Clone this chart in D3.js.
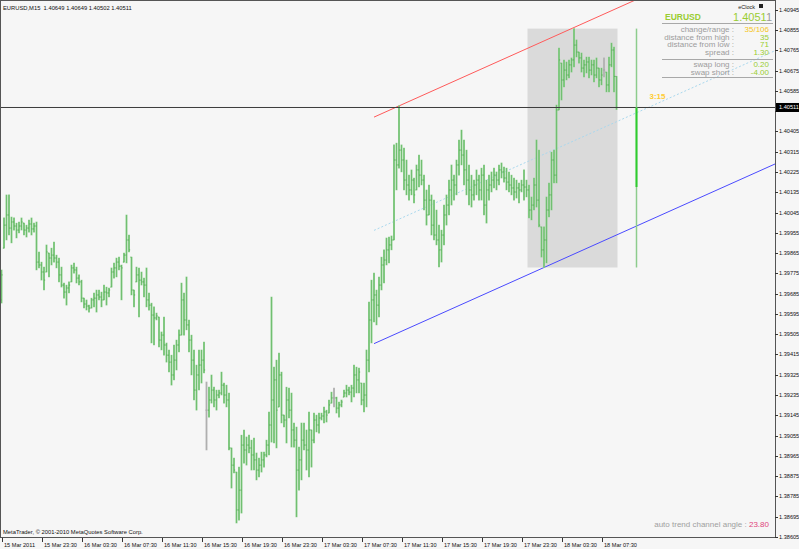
<!DOCTYPE html>
<html><head><meta charset="utf-8">
<script src="https://cdn.jsdelivr.net/npm/d3@7"></script>
<style>body{margin:0;background:#f6f6f6;overflow:hidden} svg{display:block}</style>
</head><body><svg id="c" width="799" height="549"></svg>
<script>
// ---- data (EURUSD M15, bar 0 = 15 Mar 2011 19:30) ----
const symbol = "EURUSD", period = "M15";
const highs = [
1.39790,1.40021,1.40123,1.40123,1.40025,1.40021,1.39998,1.40003,1.40021,1.39998,
1.39989,1.40012,1.40021,1.39998,1.40003,1.39870,1.39825,1.39803,1.39901,1.39865,
1.39887,1.39914,1.39856,1.39843,1.39803,1.39732,1.39723,1.39737,1.39812,1.39821,
1.39803,1.39768,1.39745,1.39665,1.39657,1.39634,1.39665,1.39688,1.39701,1.39701,
1.39692,1.39723,1.39714,1.39710,1.39799,1.39821,1.39843,1.39847,1.39812,1.39865,
1.40034,1.39945,1.39847,1.39701,1.39803,1.39799,1.39781,1.39754,1.39799,1.39688,
1.39643,1.39626,1.39599,1.39581,1.39515,1.39581,1.39466,1.39435,1.39412,1.39457,
1.39479,1.39524,1.39732,1.39688,1.39759,1.39568,1.39501,1.39435,1.39368,1.39435,
1.39435,1.39470,1.39293,1.39270,1.39324,1.39270,1.39257,1.39257,1.39337,1.39288,
1.39279,1.39244,1.39000,1.38955,1.38893,1.38915,1.39057,1.39080,1.39049,1.39057,
1.39035,1.39044,1.38978,1.38955,1.38982,1.38982,1.39035,1.39160,1.39670,1.39359,
1.39390,1.39421,1.39337,1.39146,1.39270,1.39266,1.39244,1.39111,1.39093,1.39004,
1.39111,1.39111,1.39080,1.39160,1.39080,1.39155,1.39146,1.39155,1.39155,1.39182,
1.39168,1.39213,1.39248,1.39266,1.39226,1.39204,1.39213,1.39257,1.39279,1.39270,
1.39279,1.39368,1.39359,1.39355,1.39288,1.39288,1.39435,1.39648,1.39745,1.39776,
1.39701,1.39759,1.39847,1.39879,1.39932,1.39936,1.39941,1.40345,1.40353,1.40518,
1.40345,1.40331,1.40278,1.40211,1.40234,1.40198,1.40256,1.40300,1.40278,1.40211,
1.40145,1.40167,1.40123,1.40100,1.40056,1.39989,1.39967,1.40078,1.40123,1.40189,
1.40256,1.40211,1.40278,1.40367,1.40411,1.40367,1.40322,1.40256,1.40211,1.40189,
1.40234,1.40211,1.40242,1.40256,1.40189,1.40211,1.40225,1.40242,1.40225,1.40256,
1.40265,1.40247,1.40242,1.40225,1.40211,1.40198,1.40189,1.40176,1.40189,1.40234,
1.40189,1.40167,1.40114,1.40198,1.40367,1.40322,1.39981,1.39981,1.40114,1.40176,
1.40313,1.40322,1.40522,1.40775,1.40708,1.40722,1.40713,1.40722,1.40731,1.40861,
1.40811,1.40757,1.40753,1.40722,1.40735,1.40735,1.40722,1.40722,1.40731,1.40686,
1.40686,1.40731,1.40668,1.40735,1.40797,1.40779,1.40649];
const lows = [
1.39643,1.39887,1.39923,1.39945,1.39910,1.39967,1.39932,1.39954,1.39967,1.39945,
1.39936,1.39958,1.39945,1.39958,1.39790,1.39799,1.39745,1.39701,1.39781,1.39759,
1.39812,1.39825,1.39799,1.39737,1.39714,1.39665,1.39634,1.39688,1.39737,1.39776,
1.39732,1.39723,1.39648,1.39621,1.39612,1.39603,1.39621,1.39626,1.39603,1.39657,
1.39626,1.39657,1.39634,1.39670,1.39714,1.39754,1.39759,1.39790,1.39657,1.39825,
1.39821,1.39870,1.39679,1.39626,1.39737,1.39581,1.39723,1.39670,1.39626,1.39612,
1.39466,1.39457,1.39568,1.39448,1.39435,1.39412,1.39381,1.39337,1.39279,1.39302,
1.39346,1.39426,1.39501,1.39501,1.39524,1.39426,1.39324,1.39213,1.39168,1.39257,
1.39288,1.39333,1.38991,1.39137,1.39199,1.39182,1.39168,1.39222,1.39235,1.39199,
1.39182,1.38991,1.38822,1.38889,1.38667,1.38680,1.38711,1.38933,1.38924,1.38978,
1.38902,1.38902,1.38858,1.38871,1.38893,1.38915,1.38960,1.38969,1.39026,1.39022,
1.39000,1.39182,1.39111,1.39093,1.39022,1.39133,1.39004,1.39004,1.38694,1.38813,
1.38858,1.38991,1.38902,1.38871,1.38915,1.39022,1.39071,1.39066,1.39124,1.39111,
1.39115,1.39155,1.39199,1.39182,1.39155,1.39137,1.39182,1.39226,1.39226,1.39235,
1.39204,1.39226,1.39244,1.39244,1.39191,1.39160,1.39182,1.39337,1.39466,1.39559,
1.39546,1.39581,1.39701,1.39732,1.39812,1.39821,1.39879,1.39923,1.40145,1.40242,
1.40225,1.40145,1.40123,1.40100,1.40123,1.40087,1.40145,1.40158,1.40167,1.40056,
1.39989,1.40034,1.39945,1.39923,1.39901,1.39803,1.39825,1.39901,1.39989,1.40034,
1.40078,1.40100,1.40123,1.40211,1.40256,1.40167,1.40123,1.40078,1.40069,1.40100,
1.40123,1.40100,1.40100,1.40034,1.39998,1.40100,1.40136,1.40154,1.40145,1.40167,
1.40198,1.40180,1.40145,1.40136,1.40123,1.40100,1.40109,1.40087,1.40136,1.40100,
1.40114,1.40021,1.40012,1.40056,1.40069,1.39981,1.39847,1.39801,1.39821,1.40025,
1.40056,1.40176,1.40176,1.40500,1.40544,1.40602,1.40633,1.40642,1.40668,1.40691,
1.40735,1.40708,1.40668,1.40646,1.40664,1.40642,1.40655,1.40624,1.40642,1.40602,
1.40611,1.40646,1.40580,1.40580,1.40691,1.40580,1.40502];
const opens = [
1.39657,1.39887,1.39989,1.40034,1.39976,1.40003,1.39985,1.39967,1.39985,1.39998,
1.39967,1.39976,1.39994,1.39972,1.39985,1.39825,1.39812,1.39781,1.39781,1.39865,
1.39843,1.39856,1.39843,1.39825,1.39768,1.39723,1.39692,1.39710,1.39737,1.39799,
1.39790,1.39754,1.39737,1.39665,1.39639,1.39630,1.39621,1.39657,1.39665,1.39679,
1.39670,1.39657,1.39692,1.39688,1.39714,1.39781,1.39799,1.39825,1.39807,1.39825,
1.39856,1.39923,1.39847,1.39701,1.39737,1.39768,1.39745,1.39737,1.39723,1.39657,
1.39634,1.39590,1.39577,1.39581,1.39479,1.39501,1.39457,1.39412,1.39381,1.39324,
1.39390,1.39457,1.39501,1.39657,1.39568,1.39546,1.39479,1.39390,1.39257,1.39324,
1.39368,1.39390,1.39168,1.39168,1.39213,1.39257,1.39213,1.39235,1.39244,1.39279,
1.39235,1.39213,1.39000,1.38924,1.38893,1.38725,1.38813,1.39013,1.38991,1.39013,
1.39000,1.38969,1.38947,1.38902,1.38924,1.38947,1.38969,1.39013,1.39102,1.39213,
1.39302,1.39182,1.39324,1.39146,1.39124,1.39213,1.39168,1.39080,1.39035,1.38902,
1.38947,1.39035,1.39013,1.38991,1.39080,1.39035,1.39124,1.39102,1.39133,1.39142,
1.39160,1.39155,1.39199,1.39222,1.39222,1.39177,1.39191,1.39226,1.39244,1.39257,
1.39248,1.39266,1.39324,1.39302,1.39288,1.39213,1.39235,1.39390,1.39568,1.39657,
1.39679,1.39634,1.39723,1.39812,1.39834,1.39879,1.39901,1.39923,1.40278,1.40256,
1.40322,1.40278,1.40189,1.40167,1.40145,1.40189,1.40145,1.40234,1.40211,1.40189,
1.40100,1.40034,1.40100,1.39989,1.39945,1.39923,1.39879,1.39945,1.40034,1.40078,
1.40145,1.40189,1.40167,1.40256,1.40322,1.40300,1.40234,1.40189,1.40145,1.40123,
1.40167,1.40189,1.40145,1.40211,1.40078,1.40145,1.40167,1.40189,1.40211,1.40189,
1.40234,1.40225,1.40198,1.40180,1.40167,1.40154,1.40136,1.40154,1.40145,1.40167,
1.40158,1.40145,1.40056,1.40078,1.40167,1.40100,1.39981,1.39879,1.39923,1.40056,
1.40123,1.40278,1.40211,1.40500,1.40708,1.40633,1.40677,1.40655,1.40700,1.40722,
1.40788,1.40757,1.40731,1.40686,1.40700,1.40713,1.40677,1.40700,1.40655,1.40686,
1.40633,1.40677,1.40668,1.40611,1.40700,1.40766,1.40649];
const closes = [
1.39768,1.39989,1.40034,1.39976,1.40003,1.39985,1.39967,1.39985,1.40003,1.39967,
1.39976,1.39994,1.39972,1.39985,1.39825,1.39812,1.39781,1.39745,1.39870,1.39843,
1.39856,1.39843,1.39825,1.39768,1.39723,1.39692,1.39710,1.39723,1.39799,1.39790,
1.39754,1.39737,1.39665,1.39639,1.39630,1.39621,1.39657,1.39665,1.39679,1.39670,
1.39657,1.39692,1.39688,1.39701,1.39781,1.39799,1.39825,1.39807,1.39799,1.39856,
1.39923,1.39879,1.39701,1.39679,1.39768,1.39745,1.39737,1.39723,1.39657,1.39634,
1.39590,1.39577,1.39586,1.39479,1.39501,1.39457,1.39412,1.39381,1.39324,1.39390,
1.39457,1.39501,1.39657,1.39568,1.39546,1.39479,1.39390,1.39257,1.39324,1.39368,
1.39390,1.39346,1.39168,1.39213,1.39257,1.39213,1.39235,1.39244,1.39279,1.39235,
1.39213,1.39000,1.38924,1.38902,1.38725,1.38813,1.39013,1.38991,1.39013,1.39000,
1.38969,1.38947,1.38902,1.38924,1.38947,1.38969,1.39013,1.39102,1.39213,1.39302,
1.39168,1.39324,1.39146,1.39124,1.39213,1.39168,1.39080,1.39035,1.38902,1.38947,
1.39035,1.39013,1.38991,1.39080,1.39035,1.39124,1.39102,1.39133,1.39142,1.39160,
1.39146,1.39191,1.39222,1.39222,1.39177,1.39191,1.39204,1.39244,1.39257,1.39248,
1.39266,1.39324,1.39302,1.39337,1.39213,1.39235,1.39390,1.39568,1.39657,1.39679,
1.39634,1.39723,1.39812,1.39834,1.39879,1.39901,1.39923,1.40278,1.40256,1.40322,
1.40278,1.40189,1.40167,1.40145,1.40189,1.40123,1.40234,1.40211,1.40189,1.40100,
1.40034,1.40100,1.39989,1.39945,1.39923,1.39879,1.39945,1.40034,1.40078,1.40145,
1.40189,1.40167,1.40256,1.40322,1.40300,1.40234,1.40189,1.40145,1.40123,1.40167,
1.40189,1.40145,1.40211,1.40078,1.40145,1.40167,1.40189,1.40211,1.40189,1.40234,
1.40225,1.40198,1.40180,1.40167,1.40154,1.40136,1.40154,1.40145,1.40167,1.40158,
1.40145,1.40056,1.40078,1.40167,1.40100,1.39989,1.39879,1.39923,1.40056,1.40123,
1.40278,1.40211,1.40500,1.40722,1.40633,1.40677,1.40655,1.40700,1.40722,1.40788,
1.40757,1.40731,1.40686,1.40700,1.40713,1.40677,1.40700,1.40655,1.40686,1.40633,
1.40655,1.40677,1.40611,1.40700,1.40766,1.40649,1.40511];

const priceTicks = [1.40945,1.40855,1.40765,1.40675,1.40585,1.40495,1.40405,1.40315,1.40225,1.40135,1.40045,1.39955,1.39865,1.39775,1.39685,1.39595,1.39505,1.39415,1.39325,1.39235,1.39145,1.39055,1.38965,1.38875,1.38785,1.38695,1.38605];
const timeLabels = ["15 Mar 2011","15 Mar 23:30","16 Mar 03:30","16 Mar 07:30","16 Mar 11:30","16 Mar 15:30","16 Mar 19:30","16 Mar 23:30","17 Mar 03:30","17 Mar 07:30","17 Mar 11:30","17 Mar 15:30","17 Mar 19:30","17 Mar 23:30","18 Mar 03:30","18 Mar 07:30"];
const timeLabelBars = [0,16,32,48,64,80,96,112,128,144,160,176,192,208,224,240];

const bid = 1.40511;
const dayStartBar = 210;
const dayOpen = 1.40158, dayHigh = 1.40861, dayLow = 1.39801;
const clockBar = 254;
const channelLow  = [[149,1.39463],[217,1.39801]];
const channelHigh = [[159,1.40518]];
const channelAngle = "23.80";
const infoLabels = ["change/range :","distance from high :","distance from low :","spread :"];
const infoValues = ["35/106","35","71","1.30"];
const swapLabels = ["swap long :","swap short :"];
const swapValues = ["0.20","-4.00"];
const clockText = "3:15";

// ---- layout ----
const W = 799, H = 549, plotR = 775, plotB = 537;
const lastBar = highs.length - 1;
const svg = d3.select("#c");
const FONT = "'Liberation Sans', Arial, sans-serif";
svg.append("rect").attr("width",W).attr("height",H).attr("fill","#f6f6f6");

const x = d3.scaleLinear().domain([0,1]).range([1.5,4.0]);
const y = d3.scaleLinear().domain([1.38605,1.40988]).range([plotB,0]);

svg.append("defs").append("clipPath").attr("id","clip").append("rect").attr("x",0).attr("y",0).attr("width",plotR).attr("height",plotB);
const plot = svg.append("g").attr("clip-path","url(#clip)");

// today's range rectangle
plot.append("rect")
  .attr("x", x(dayStartBar)+1).attr("width", x(lastBar)-x(dayStartBar))
  .attr("y", y(dayHigh)).attr("height", y(dayLow)-y(dayHigh))
  .attr("fill","#dadada");

// channel
const slope = (channelLow[1][1]-channelLow[0][1])/(channelLow[1][0]-channelLow[0][0]);
const b0 = channelLow[0][0], bEnd = 320;
const lowAt = b => channelLow[0][1] + slope*(b-b0);
const highAt = b => channelHigh[0][1] + slope*(b-channelHigh[0][0]);
plot.append("line").attr("x1",x(b0)).attr("y1",y(highAt(b0))).attr("x2",x(bEnd)).attr("y2",y(highAt(bEnd)))
  .attr("stroke","#ff5a5a").attr("stroke-width",1);
plot.append("line").attr("x1",x(b0)).attr("y1",y(lowAt(b0))).attr("x2",x(bEnd)).attr("y2",y(lowAt(bEnd)))
  .attr("stroke","#4a4aff").attr("stroke-width",1);
plot.append("line").attr("x1",x(b0)).attr("y1",y((lowAt(b0)+highAt(b0))/2)).attr("x2",x(bEnd)).attr("y2",y((lowAt(bEnd)+highAt(bEnd))/2))
  .attr("stroke","#a9d8ee").attr("stroke-width",1).attr("stroke-dasharray","2,2");

// bars
const data = highs.map((h,i)=>({i,h,l:lows[i],o:opens[i],c:closes[i]}));
const col = d => d.o===d.c ? "#bdbdbd" : "#92d292";
const dark = d => d.o===d.c ? "#a0a0a0" : "#4aa84a";
const gb = plot.append("g");
gb.selectAll("line.w").data(data).join("line").attr("class","w")
  .attr("x1",d=>x(d.i)).attr("x2",d=>x(d.i)).attr("y1",d=>y(d.h)-0.3).attr("y2",d=>y(d.l)+0.3)
  .attr("stroke",col).attr("stroke-width",2);
gb.selectAll("line.k").data(data).join("line").attr("class","k")
  .attr("x1",d=>x(d.i)).attr("x2",d=>x(d.i)).attr("y1",d=>y(d.h)).attr("y2",d=>y(d.l))
  .attr("stroke",dark).attr("stroke-width",0.6).attr("opacity",0.75);
gb.selectAll("line.o").data(data).join("line").attr("class","o")
  .attr("x1",d=>x(d.i)-1.2).attr("x2",d=>x(d.i)).attr("y1",d=>y(d.o)).attr("y2",d=>y(d.o))
  .attr("stroke",dark).attr("stroke-width",0.7);
gb.selectAll("line.c").data(data).join("line").attr("class","c")
  .attr("x1",d=>x(d.i)).attr("x2",d=>x(d.i)+1.2).attr("y1",d=>y(d.c)).attr("y2",d=>y(d.c))
  .attr("stroke",dark).attr("stroke-width",0.7);

// bid line
plot.append("line").attr("x1",0).attr("x2",plotR).attr("y1",y(bid)).attr("y2",y(bid)).attr("stroke","#3c3c3c").attr("stroke-width",1);

// clock bar (day range / change)
plot.append("line").attr("x1",x(clockBar)).attr("x2",x(clockBar)).attr("y1",y(dayHigh)).attr("y2",y(dayLow))
  .attr("stroke","#8dcc8d").attr("stroke-width",1.5);
plot.append("line").attr("x1",x(clockBar)).attr("x2",x(clockBar)).attr("y1",y(bid)).attr("y2",y(dayOpen))
  .attr("stroke","#2ecc2e").attr("stroke-width",2);
svg.append("text").attr("x",x(clockBar)+13).attr("y",y(bid)-8).text(clockText)
  .attr("font-family",FONT).attr("font-size",8).attr("font-weight","bold").attr("fill","#ffcc33");

// frame
svg.append("rect").attr("x",0.5).attr("y",0.5).attr("width",plotR).attr("height",plotB).attr("fill","none").attr("stroke","#555").attr("stroke-width",1);

// right axis
const ya = svg.append("g");
priceTicks.forEach(p=>{
  const yy = Math.min(y(p), plotB);
  ya.append("line").attr("x1",plotR).attr("x2",plotR+3).attr("y1",Math.round(yy)+0.5).attr("y2",Math.round(yy)+0.5).attr("stroke","#333");
  if (Math.abs(yy - y(bid)) < 8) return;
  ya.append("text").attr("x",plotR+4).attr("y",yy+2).text(p.toFixed(5))
    .attr("font-family",FONT).attr("font-size",5.6).attr("fill","#111");
});
ya.append("rect").attr("x",plotR+1).attr("y",y(bid)-4.5).attr("width",W-plotR-1).attr("height",9).attr("fill","#000");
ya.append("text").attr("x",plotR+4).attr("y",y(bid)+2).text(bid.toFixed(5))
  .attr("font-family",FONT).attr("font-size",5.6).attr("fill","#fff");

// bottom axis
const xa = svg.append("g");
timeLabels.forEach((t,k)=>{
  const xx = Math.round(x(timeLabelBars[k]))+0.5;
  xa.append("line").attr("x1",xx).attr("x2",xx).attr("y1",plotB+1).attr("y2",plotB+5).attr("stroke","#333");
  xa.append("text").attr("x",xx+1.5).attr("y",plotB+10).text(t)
    .attr("font-family",FONT).attr("font-size",5.6).attr("fill","#111");
});

// titles
const titleOHLC = [opens[lastBar],highs[lastBar],lows[lastBar],closes[lastBar]];
svg.append("text").attr("x",3).attr("y",10).text(`${symbol},${period}  ${titleOHLC.map(v=>v.toFixed(5)).join(" ")}`)
  .attr("font-family",FONT).attr("font-size",5.8).attr("fill","#111").attr("xml:space","preserve");
svg.append("text").attr("x",3).attr("y",plotB-3).text("MetaTrader, \u00a9 2001-2010 MetaQuotes Software Corp.")
  .attr("font-family",FONT).attr("font-size",5.8).attr("fill","#111");
const ang = svg.append("text").attr("x",plotR-6).attr("y",plotB-10).attr("text-anchor","end")
  .attr("font-family",FONT).attr("font-size",8).attr("fill","#a0a0a0");
ang.append("tspan").text("auto trend channel angle : ");
ang.append("tspan").text(channelAngle).attr("fill","#e0457b");

// info panel
const P = svg.append("g").attr("font-family",FONT);
P.append("text").attr("x",755).attr("y",8.5).attr("text-anchor","end").text("eClock").attr("font-size",5.5).attr("fill","#222");
P.append("rect").attr("x",759).attr("y",4).attr("width",4).attr("height",4).attr("fill","#222");
P.append("text").attr("x",665).attr("y",20).text(symbol).attr("font-size",8.5).attr("font-weight","bold").attr("fill","#9acd32");
const bt = P.append("text").attr("x",772).attr("y",21).attr("text-anchor","end").attr("font-size",11).attr("fill","#9acd32");
const bs = bid.toFixed(5);
bt.append("tspan").text(bs.slice(0,-1));
bt.append("tspan").text(bs.slice(-1)).attr("fill","#9a9a9a");
[23.5,59.5,77.5].forEach(yy=>P.append("line").attr("x1",662).attr("x2",773).attr("y1",yy).attr("y2",yy).attr("stroke","#a8a8a8").attr("stroke-width",1));
infoLabels.forEach((t,k)=>{
  const yy = 32 + k*7.5;
  P.append("text").attr("x",734).attr("y",yy).attr("text-anchor","end").text(t).attr("font-size",8).attr("fill","#9c9c9c");
  P.append("text").attr("x",769).attr("y",yy).attr("text-anchor","end").text(infoValues[k]).attr("font-size",8).attr("fill",k===0?"#f5c518":"#9acd32");
});
swapLabels.forEach((t,k)=>{
  const yy = 67 + k*7.5;
  P.append("text").attr("x",734).attr("y",yy).attr("text-anchor","end").text(t).attr("font-size",8).attr("fill","#9c9c9c");
  P.append("text").attr("x",769).attr("y",yy).attr("text-anchor","end").text(swapValues[k]).attr("font-size",8).attr("fill","#9acd32");
});
</script></body></html>
